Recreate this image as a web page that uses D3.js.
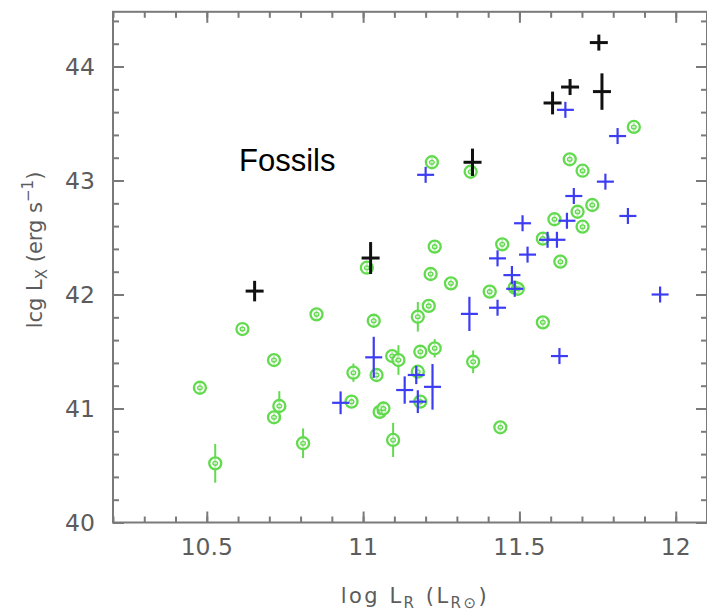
<!DOCTYPE html>
<html>
<head>
<meta charset="utf-8">
<script src="https://cdn.jsdelivr.net/npm/d3@7"></script>
<style>
  html, body { margin: 0; padding: 0; background: #fff; }
  svg { display: block; }
</style>
</head>
<body>
<svg id="chart" width="707" height="614"></svg>
<script>
// Fossil groups (black crosses)
const fossilX    = [10.653, 11.024, 11.35, 11.606, 11.662, 11.754, 11.764];
const fossilY    = [42.03, 42.32, 43.16, 43.68, 43.82, 44.21, 43.78];
const fossilYErr = [0.09, 0.14, 0.12, 0.10, 0.065, 0.06, 0.16];

// Blue cross sample
const blueX    = [11.647, 11.814, 11.20, 11.775, 11.674, 11.847, 11.51, 11.652, 11.59, 11.62,
                  11.43, 11.526, 11.476, 11.485, 11.43, 11.95, 11.34, 11.034, 11.628, 10.928,
                  11.133, 11.17, 11.175, 11.222];
const blueY    = [43.62, 43.39, 43.05, 42.99, 42.864, 42.689, 42.625, 42.647, 42.48, 42.48,
                  42.317, 42.35, 42.17, 42.05, 41.884, 42.0, 41.83, 41.449, 41.46, 41.05,
                  41.162, 41.294, 41.06, 41.19];
const blueYErr = [0.05, 0.05, 0.05, 0.05, 0.06, 0.05, 0.07, 0.06, 0.05, 0.05,
                  0.06, 0.07, 0.08, 0.06, 0.06, 0.05, 0.15, 0.18, 0.05, 0.10,
                  0.12, 0.08, 0.10, 0.20];

// Green circle sample
const greenX    = [11.22, 11.344, 11.661, 11.702, 11.866, 11.733, 11.686, 11.612, 11.702, 11.575,
                   11.445, 11.229, 11.631, 11.012, 11.216, 11.281, 11.405, 11.485, 11.495, 10.851,
                   10.614, 11.21, 11.175, 11.034, 11.575, 10.715, 10.478, 10.969, 11.043, 11.093,
                   11.113, 11.183, 11.229, 11.175, 11.352, 10.732, 10.715, 10.963, 11.053, 11.065,
                   11.183, 10.808, 10.527, 11.096, 11.439];
const greenY    = [43.16, 43.077, 43.186, 43.086, 43.47, 42.785, 42.726, 42.66, 42.595, 42.49,
                   42.44, 42.42, 42.288, 42.235, 42.18, 42.098, 42.025, 42.06, 42.05, 41.826,
                   41.697, 41.90, 41.805, 41.77, 41.756, 41.425, 41.182, 41.314, 41.294, 41.46,
                   41.425, 41.498, 41.528, 41.323, 41.41, 41.022, 40.923, 41.06, 40.97, 41.0,
                   41.06, 40.695, 40.519, 40.724, 40.835];
const greenYErr = [0.04, 0.04, 0.04, 0.04, 0.04, 0.04, 0.04, 0.04, 0.04, 0.05,
                   0.05, 0.05, 0.04, 0.05, 0.05, 0.04, 0.04, 0.04, 0.04, 0.04,
                   0.03, 0.04, 0.13, 0.04, 0.04, 0.04, 0.05, 0.08, 0.04, 0.04,
                   0.13, 0.04, 0.08, 0.05, 0.10, 0.13, 0.04, 0.04, 0.05, 0.06,
                   0.05, 0.13, 0.17, 0.15, 0.04];

// Axis ticks
const xMajorTicks = [10.5, 11, 11.5, 12];
const xTickLabels = ["10.5", "11", "11.5", "12"];
const xMinorTicks = d3.range(10.2, 12.11, 0.1).map(v => +v.toFixed(2));
const yMajorTicks = [40, 41, 42, 43, 44];
const yTickLabels = ["40", "41", "42", "43", "44"];
const yMinorTicks = d3.range(40, 44.41, 0.2).map(v => +v.toFixed(2));

const zip = (xs, ys, es) => xs.map((x, i) => ({ x, y: ys[i], e: es[i] }));
const fossils = zip(fossilX, fossilY, fossilYErr);
const blue = zip(blueX, blueY, blueYErr);
const green = zip(greenX, greenY, greenYErr);

const svg = d3.select("#chart");
const x = d3.scaleLinear().domain([10.2, 12.1]).range([113, 707]);
const y = d3.scaleLinear().domain([40, 44.48]).range([522.5, 11.8]);

const frameColor = "#7a7a7a";
const labelColor = "#5c5c5c";

const plotBottom = y(40), plotTop = y(44.48), plotLeft = x(10.2), plotRight = x(12.1);

// Frame
svg.append("rect")
  .attr("x", plotLeft).attr("y", plotTop)
  .attr("width", plotRight - plotLeft).attr("height", plotBottom - plotTop)
  .attr("fill", "none").attr("stroke", frameColor).attr("stroke-width", 2);

// Inward-pointing ticks on all four sides
function tickAxis(axisFn, scale, ticks, size, transform) {
  const g = svg.append("g").attr("transform", transform)
    .call(axisFn(scale).tickValues(ticks).tickSize(size).tickFormat(""));
  g.select(".domain").remove();
  g.selectAll(".tick line").attr("stroke", frameColor).attr("stroke-width", 2);
  g.selectAll(".tick text").remove();
  return g;
}
tickAxis(d3.axisBottom, x, xMinorTicks, -6, `translate(0,${plotBottom})`);
tickAxis(d3.axisBottom, x, xMajorTicks, -11, `translate(0,${plotBottom})`);
tickAxis(d3.axisTop, x, xMinorTicks, -6, `translate(0,${plotTop})`);
tickAxis(d3.axisTop, x, xMajorTicks, -11, `translate(0,${plotTop})`);
tickAxis(d3.axisLeft, y, yMinorTicks, -6, `translate(${plotLeft},0)`);
tickAxis(d3.axisLeft, y, yMajorTicks, -11, `translate(${plotLeft},0)`);
tickAxis(d3.axisRight, y, yMinorTicks, -6, `translate(${plotRight},0)`);
tickAxis(d3.axisRight, y, yMajorTicks, -11, `translate(${plotRight},0)`);

// Tick labels
const font = "'DejaVu Sans', sans-serif";
svg.append("g").selectAll("text").data(xMajorTicks).join("text")
  .attr("x", d => x(d)).attr("y", 555)
  .attr("text-anchor", "middle")
  .attr("font-family", font).attr("font-size", 23.5).attr("fill", labelColor)
  .text((d, i) => xTickLabels[i]);
svg.append("g").selectAll("text").data(yMajorTicks).join("text")
  .attr("x", 95).attr("y", d => y(d) + 8.5)
  .attr("text-anchor", "end")
  .attr("font-family", font).attr("font-size", 23.5).attr("fill", labelColor)
  .text((d, i) => yTickLabels[i]);

// Axis titles
const xt = svg.append("text")
  .attr("x", 415).attr("y", 603).attr("text-anchor", "middle")
  .attr("letter-spacing", 2.5)
  .attr("font-family", font).attr("font-size", 21).attr("fill", labelColor);
xt.append("tspan").text("log L");
xt.append("tspan").attr("font-size", 15).attr("dy", 5).text("R");
xt.append("tspan").attr("dy", -5).text(" (L");
xt.append("tspan").attr("font-size", 15).attr("dy", 5).text("R⊙");
xt.append("tspan").attr("dy", -5).text(")");

const yt = svg.append("text")
  .attr("transform", "translate(42,250) rotate(-90)").attr("text-anchor", "middle")
  .attr("font-family", font).attr("font-size", 21).attr("fill", labelColor);
yt.append("tspan").text("lcg L");
yt.append("tspan").attr("font-size", 15).attr("dy", 5).text("X");
yt.append("tspan").attr("dy", -5).text(" (erg s");
yt.append("tspan").attr("font-size", 15).attr("dy", -9).text("−1");
yt.append("tspan").attr("dy", 9).text(")");

// Annotation
svg.append("text")
  .attr("x", 239).attr("y", 170.5)
  .attr("font-family", "'Liberation Sans', Arial, sans-serif")
  .attr("font-size", 31).attr("fill", "#000")
  .text("Fossils");

// Green circles with error bars
const greenColor = "#62da4e";
const gG = svg.append("g").attr("stroke", greenColor).attr("fill", "none");
gG.selectAll("line").data(green).join("line")
  .attr("x1", d => x(d.x)).attr("x2", d => x(d.x))
  .attr("y1", d => y(d.y + d.e)).attr("y2", d => y(d.y - d.e))
  .attr("stroke-width", 2);
gG.selectAll("circle.outer").data(green).join("circle")
  .attr("class", "outer")
  .attr("cx", d => x(d.x)).attr("cy", d => y(d.y)).attr("r", 6)
  .attr("fill", "#fff").attr("fill-opacity", 0.6).attr("stroke-width", 2.3);
gG.selectAll("ellipse").data(green).join("ellipse")
  .attr("cx", d => x(d.x)).attr("cy", d => y(d.y)).attr("rx", 2.3).attr("ry", 1.9)
  .attr("stroke-width", 1.3);

// Blue crosses with error bars
const blueColor = "#3c3cf2";
const bG = svg.append("g").attr("stroke", blueColor).attr("stroke-width", 2.2);
bG.selectAll("line.v").data(blue).join("line").attr("class", "v")
  .attr("x1", d => x(d.x)).attr("x2", d => x(d.x))
  .attr("y1", d => Math.min(y(d.y + d.e), y(d.y) - 8))
  .attr("y2", d => Math.max(y(d.y - d.e), y(d.y) + 8));
bG.selectAll("line.h").data(blue).join("line").attr("class", "h")
  .attr("x1", d => x(d.x) - 8.5).attr("x2", d => x(d.x) + 8.5)
  .attr("y1", d => y(d.y)).attr("y2", d => y(d.y));

// Black crosses for fossil groups
const kG = svg.append("g").attr("stroke", "#111").attr("stroke-width", 3);
kG.selectAll("line.v").data(fossils).join("line").attr("class", "v")
  .attr("x1", d => x(d.x)).attr("x2", d => x(d.x))
  .attr("y1", d => Math.min(y(d.y + d.e), y(d.y) - 8))
  .attr("y2", d => Math.max(y(d.y - d.e), y(d.y) + 8));
kG.selectAll("line.h").data(fossils).join("line").attr("class", "h")
  .attr("x1", d => x(d.x) - 9).attr("x2", d => x(d.x) + 9)
  .attr("y1", d => y(d.y)).attr("y2", d => y(d.y));
</script>
</body>
</html>
